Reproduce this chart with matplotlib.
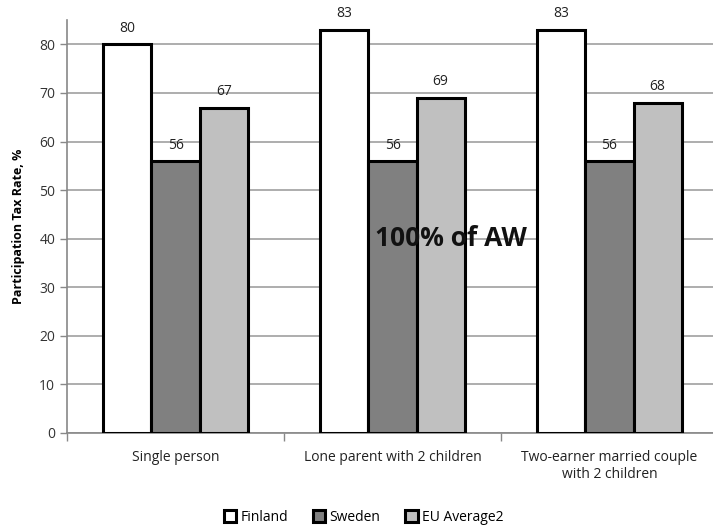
import matplotlib
matplotlib.use("Agg")
import matplotlib.pyplot as plt
import numpy as np

categories = ["Single person", "Lone parent with 2 children", "Two-earner married couple\nwith 2 children"]
series_names = ["Finland", "Sweden", "EU Average2"]
finland = [80, 83, 83]
sweden = [56, 56, 56]
eu_average = [67, 69, 68]
y_ticks = [0, 10, 20, 30, 40, 50, 60, 70, 80]

colors = ["#ffffff", "#808080", "#c0c0c0"]
plt.rcParams['font.family'] = ['Open Sans', 'DejaVu Sans']

fig = plt.figure(figsize=(7.13, 5.28), dpi=100)
ax = fig.add_axes([0.094, 0.180, 0.913, 0.782])

x = np.arange(len(categories))
width = 0.222
offsets = [-width, 0, width]
handles = []
for vals, off, col, name in zip([finland, sweden, eu_average], offsets, colors, series_names):
    bars = ax.bar(x + off, vals, width, color=col, edgecolor="black", linewidth=2.2,
                  label=name, zorder=3)
    handles.append(bars)
    for b, v in zip(bars, vals):
        ax.annotate(f"{v}", (b.get_x() + b.get_width() / 2, v), xytext=(0, 6),
                    textcoords="offset points", ha="center", va="bottom",
                    fontsize=10, color="#222222")

ax.set_xlim(-0.5, 2.5)
ax.set_ylim(0, 85)
ax.set_yticks(y_ticks)
ax.tick_params(axis="y", labelsize=10, colors="#888888", labelcolor="#333333", length=5, width=1)
ax.yaxis.grid(True, color="#a0a0a0", linewidth=1.2, zorder=0)

# category labels centered, boundary ticks between groups
ax.set_xticks(x)
ax.set_xticklabels(categories, fontsize=10, color="#222222")
ax.tick_params(axis="x", length=0, pad=12)
ax.set_xticks([-0.5, 0.5, 1.5, 2.5], minor=True)
ax.tick_params(axis="x", which="minor", length=6, width=1, color="#888888")

for s in ["top", "right"]:
    ax.spines[s].set_visible(False)
for s in ["left", "bottom"]:
    ax.spines[s].set_color("#888888")
    ax.spines[s].set_linewidth(1.2)

ax.set_ylabel("Participation Tax Rate, %", fontsize=9, fontweight="bold", labelpad=10)

ax.text(1.27, 40, "100% of AW", fontsize=19, fontweight="bold", ha="center", va="center",
        color="#111111", zorder=5)

fig.legend(handles=handles, labels=series_names, loc="lower center", ncol=3,
           bbox_to_anchor=(0.51, -0.018), frameon=False, fontsize=10,
           handlelength=0.9, handleheight=0.9, handletextpad=0.3, columnspacing=1.8)

fig.savefig("out.png", dpi=100)
